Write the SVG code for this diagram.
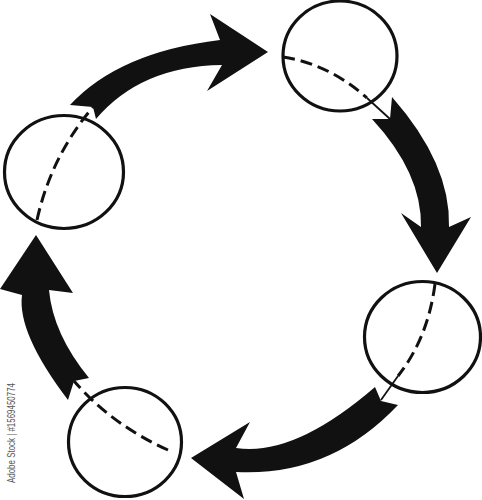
<svg xmlns="http://www.w3.org/2000/svg" width="482" height="500" viewBox="0 0 482 500">
<style>
.ring{fill:none;stroke:#111;stroke-width:3.2}
.dash{fill:none;stroke:#111;stroke-width:3;stroke-dasharray:12 6}
.thin{fill:none;stroke:#111;stroke-width:1.8}
.arrow{fill:#111;stroke:none}
.wm{font-family:"Liberation Sans",Arial,sans-serif;font-size:10px;fill:#555}
</style>
<rect width="482" height="500" fill="#fff"/>
<g id="connectors">
  <path id="arrow-top" class="arrow" d="M96,119 Q141,66 222,65 L207,91 L268,52 L210,14 L220,40 Q119,52 70,105 L93,107 Z"/>
  <path id="arrow-right" class="arrow" d="M392,97 Q451,164 449,227 L471,217 L437,273 L401,213 L421,227 Q422,173 372,119 L390,119 Z"/>
  <path id="arrow-bottom" class="arrow" d="M398,405 Q330,477 236,472 L244,499 L191,458 L250,422 L236,448 Q294,457 375,387 L381,401 Z"/>
  <path id="arrow-left" class="arrow" d="M68,400 Q17,333 22,295 L0,289 L36,235 L73,293 L49,290 Q53,334 89,378 L74,381 Z"/>
</g>
<g id="node-top-right">
  <ellipse class="ring" cx="340" cy="56" rx="57" ry="55"/>
  <path class="dash" d="M283,57 Q329,64 367,98"/>
  <path class="thin" d="M367,98 L390,119"/>
</g>
<g id="node-left">
  <ellipse class="ring" cx="64" cy="172" rx="59.5" ry="56.5"/>
  <path class="dash" d="M37,220 Q51,156.5 93,107"/>
</g>
<g id="node-right">
  <ellipse class="ring" cx="422.5" cy="337" rx="58" ry="55.5"/>
  <path class="dash" d="M435,284 Q428,338 398,376"/>
  <path class="thin" d="M398,376 L381,400"/>
</g>
<g id="node-bottom">
  <ellipse class="ring" cx="125" cy="442" rx="56.5" ry="54.5"/>
  <path class="dash" d="M168,450 Q112,425 74,381"/>
</g>
<text class="wm" transform="translate(15,433) rotate(-90)" text-anchor="middle" textLength="100" lengthAdjust="spacingAndGlyphs">Adobe Stock | #1569450774</text>
</svg>
